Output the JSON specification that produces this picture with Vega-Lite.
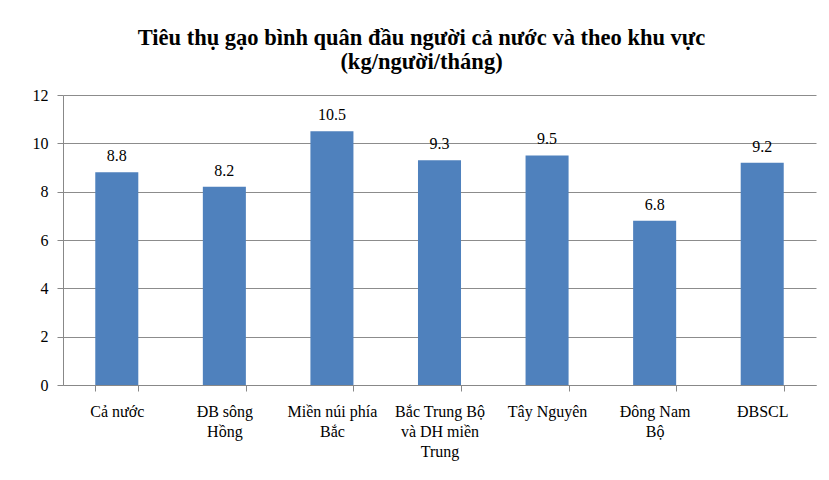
{
  "$schema": "https://vega.github.io/schema/vega-lite/v6.json",
  "width": 753,
  "height": 290,
  "autosize": {"type": "none"},
  "padding": {"left": 63, "top": 95, "right": 13, "bottom": 95},
  "background": "white",
  "title": {
    "text": ["Tiêu thụ gạo bình quân đầu người cả nước và theo khu vực", "(kg/người/tháng)"],
    "font": "Liberation Serif",
    "fontSize": 22.5,
    "fontWeight": "bold",
    "color": "black",
    "anchor": "middle",
    "frame": "group",
    "lineHeight": 24,
    "offset": 14,
    "dx": -18
  },
  "data": {
    "values": [
      {"region": "Cả nước", "value": 8.8},
      {"region": "ĐB sông Hồng", "value": 8.2},
      {"region": "Miền núi phía Bắc", "value": 10.5},
      {"region": "Bắc Trung Bộ và DH miền Trung", "value": 9.3},
      {"region": "Tây Nguyên", "value": 9.5},
      {"region": "Đông Nam Bộ", "value": 6.8},
      {"region": "ĐBSCL", "value": 9.2}
    ]
  },
  "encoding": {
    "x": {
      "field": "region",
      "type": "nominal",
      "sort": null,
      "title": null,
      "scale": {"paddingInner": 0.6, "paddingOuter": 0.3},
      "axis": {
        "labelAngle": 0,
        "labelFont": "Liberation Serif",
        "labelFontSize": 16,
        "labelColor": "black",
        "labelLineHeight": 20,
        "labelPadding": 12,
        "labelBaseline": "top",
        "labelLimit": 0,
        "tickBand": "extent",
        "tickSize": 6,
        "tickColor": "#888888",
        "domainColor": "#888888",
        "labelExpr": "datum.label == 'ĐB sông Hồng' ? ['ĐB sông', 'Hồng'] : datum.label == 'Miền núi phía Bắc' ? ['Miền núi phía', 'Bắc'] : datum.label == 'Bắc Trung Bộ và DH miền Trung' ? ['Bắc Trung Bộ', 'và DH miền', 'Trung'] : datum.label == 'Đông Nam Bộ' ? ['Đông Nam', 'Bộ'] : datum.label"
      }
    },
    "y": {
      "field": "value",
      "type": "quantitative",
      "title": null,
      "scale": {"domain": [0, 12], "nice": false},
      "axis": {
        "values": [0, 2, 4, 6, 8, 10, 12],
        "labelFont": "Liberation Serif",
        "labelFontSize": 16,
        "labelColor": "black",
        "labelPadding": 9,
        "tickSize": 6,
        "tickColor": "#888888",
        "domainColor": "#888888",
        "gridColor": "#8c8c8c",
        "gridWidth": 1
      }
    }
  },
  "layer": [
    {"mark": {"type": "bar", "color": "#4F81BD"}},
    {
      "mark": {"type": "text", "baseline": "bottom", "dy": -8, "font": "Liberation Serif", "fontSize": 16, "color": "black"},
      "encoding": {"text": {"field": "value", "type": "quantitative", "format": ".1f"}}
    }
  ],
  "config": {"font": "Liberation Serif", "view": {"stroke": null}}
}
